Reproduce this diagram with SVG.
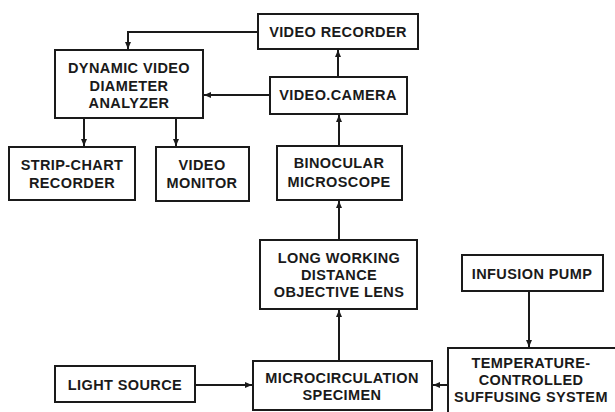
<svg xmlns="http://www.w3.org/2000/svg" width="615" height="412" viewBox="0 0 615 412">
<style>
.box{fill:#fff;stroke:#1a1a1a;stroke-width:2}
.t{font-family:"Liberation Sans",Arial,sans-serif;font-weight:bold;font-size:14.5px;letter-spacing:0.4px;fill:#1a1a1a;text-anchor:middle}
.c{fill:none;stroke:#1a1a1a;stroke-width:2}
</style>
<defs>
<marker id="ah" markerWidth="8" markerHeight="8" refX="7" refY="4" orient="auto" markerUnits="userSpaceOnUse">
<path d="M0,1 L7,4 L0,7 Z" fill="#1a1a1a"/>
</marker>
</defs>
<rect width="615" height="412" fill="#fff"/>
<g id="connectors">
<path class="c" d="M258,32 H128 V49" marker-end="url(#ah)"/>
<path class="c" d="M270,95 H204" marker-end="url(#ah)"/>
<path class="c" d="M84,118 V146" marker-end="url(#ah)"/>
<path class="c" d="M176,118 V146" marker-end="url(#ah)"/>
<path class="c" d="M338,77 V50" marker-end="url(#ah)"/>
<path class="c" d="M339,146 V115" marker-end="url(#ah)"/>
<path class="c" d="M339,240 V201" marker-end="url(#ah)"/>
<path class="c" d="M339,361 V310" marker-end="url(#ah)"/>
<path class="c" d="M529,291 V347" marker-end="url(#ah)"/>
<path class="c" d="M448,385 H433" marker-end="url(#ah)"/>
<path class="c" d="M195,385 H252" marker-end="url(#ah)"/>
</g>
<g id="video-recorder">
<rect class="box" x="258" y="14" width="160" height="35"/>
<text class="t" x="338" y="37">VIDEO RECORDER</text>
</g>
<g id="video-camera">
<rect class="box" x="270" y="77" width="137" height="37"/>
<text class="t" x="338" y="100">VIDEO.CAMERA</text>
</g>
<g id="analyzer">
<rect class="box" x="55" y="50" width="148" height="68"/>
<text class="t" x="129" y="73">DYNAMIC VIDEO</text>
<text class="t" x="129" y="91">DIAMETER</text>
<text class="t" x="129" y="108">ANALYZER</text>
</g>
<g id="strip-chart">
<rect class="box" x="9" y="147" width="126" height="53"/>
<text class="t" x="72" y="170">STRIP-CHART</text>
<text class="t" x="72" y="188">RECORDER</text>
</g>
<g id="video-monitor">
<rect class="box" x="156" y="147" width="93" height="54"/>
<text class="t" x="202" y="170">VIDEO</text>
<text class="t" x="202" y="188">MONITOR</text>
</g>
<g id="binocular">
<rect class="box" x="277" y="146" width="125" height="54"/>
<text class="t" x="339" y="168">BINOCULAR</text>
<text class="t" x="339" y="187">MICROSCOPE</text>
</g>
<g id="objective">
<rect class="box" x="260" y="240" width="157" height="69"/>
<text class="t" x="339" y="263">LONG WORKING</text>
<text class="t" x="339" y="280">DISTANCE</text>
<text class="t" x="339" y="297">OBJECTIVE LENS</text>
</g>
<g id="infusion-pump">
<rect class="box" x="462" y="255" width="141" height="36"/>
<text class="t" x="532" y="279">INFUSION PUMP</text>
</g>
<g id="specimen">
<rect class="box" x="253" y="361" width="179" height="49"/>
<text class="t" x="342" y="383">MICROCIRCULATION</text>
<text class="t" x="342" y="400">SPECIMEN</text>
</g>
<g id="suffusing">
<rect class="box" x="448" y="348" width="180" height="70"/>
<text class="t" x="531" y="368">TEMPERATURE-</text>
<text class="t" x="531" y="385">CONTROLLED</text>
<text class="t" x="531" y="402">SUFFUSING SYSTEM</text>
</g>
<g id="light-source">
<rect class="box" x="55" y="366" width="140" height="36"/>
<text class="t" x="125" y="390">LIGHT SOURCE</text>
</g>
</svg>
